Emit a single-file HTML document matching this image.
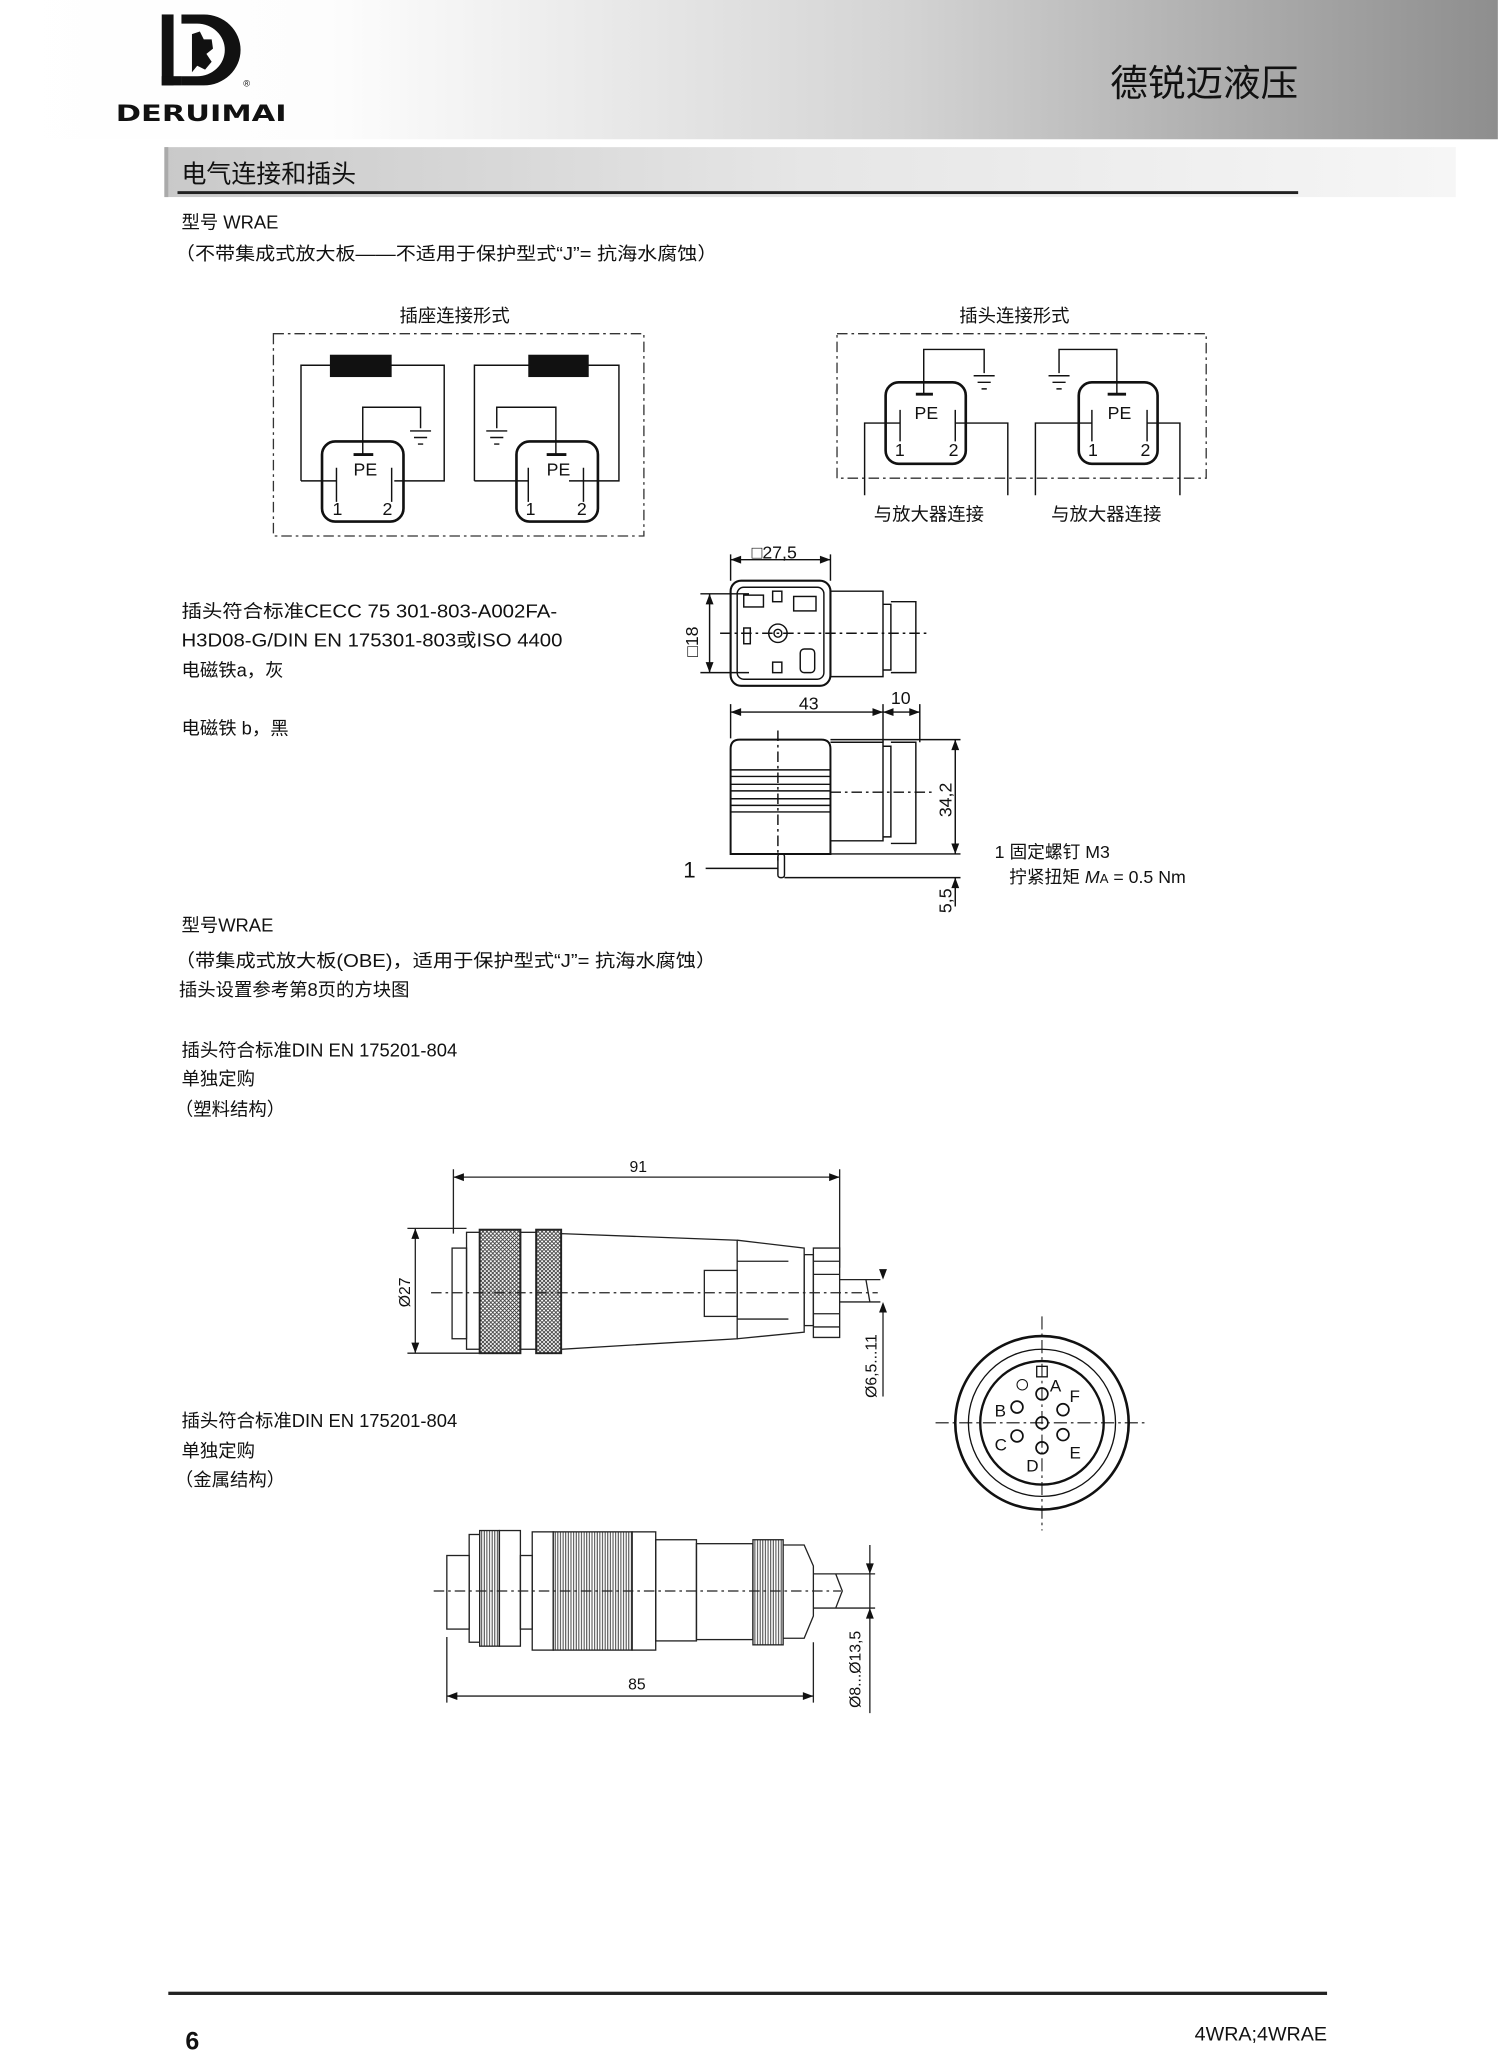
<!DOCTYPE html>
<html><head><meta charset="utf-8">
<style>
html,body{margin:0;padding:0;background:#fff;}
svg{display:block;}
text{font-family:"Liberation Sans","Noto Sans CJK SC",sans-serif;fill:#111;}
</style></head>
<body>
<svg width="1498" height="2060" viewBox="0 0 1140 1568" xmlns="http://www.w3.org/2000/svg">
<defs>
<linearGradient id="hg" x1="0" x2="1" y1="0" y2="0">
<stop offset="0" stop-color="#fff"/><stop offset="0.22" stop-color="#fdfdfd"/><stop offset="0.6" stop-color="#d4d4d4"/><stop offset="1" stop-color="#8e8e8e"/>
</linearGradient>
<linearGradient id="sg" x1="0" x2="1" y1="0" y2="0">
<stop offset="0" stop-color="#c9c9c9"/><stop offset="0.5" stop-color="#e6e6e6"/><stop offset="1" stop-color="#f6f6f6"/>
</linearGradient>
<pattern id="kn" width="3" height="3" patternUnits="userSpaceOnUse"><rect width="3" height="3" fill="#fff"/><path d="M0 0L3 3M3 0L0 3" stroke="#333" stroke-width="0.6"/></pattern>
<pattern id="kv" width="2" height="4" patternUnits="userSpaceOnUse"><rect width="2" height="4" fill="#fff"/><path d="M0.5 0V4" stroke="#333" stroke-width="0.7"/></pattern>
</defs>
<!-- header -->
<rect x="0" y="0" width="1140" height="106" fill="url(#hg)"/>
<rect x="123" y="11" width="9" height="54" fill="#111"/>
<rect x="123" y="58" width="15" height="7" fill="#111"/>
<path d="M138 11 H155 A28 27 0 0 1 155 65 H138 V58 H150 A21 20 0 0 0 150 18 H138 Z" fill="#111"/>
<path d="M146 26 L152 24 L155 30 L161 30 L162 37 L157 41 L161 47 L156 53 L150 50 L146 55 Z" fill="#111"/>
<text x="185" y="66" font-size="7">®</text>
<text x="88" y="92" font-size="17" font-weight="bold" textLength="130" lengthAdjust="spacingAndGlyphs" style="font-family:'DejaVu Sans',sans-serif">DERUIMAI</text>
<text x="845" y="73" font-size="28" textLength="143" lengthAdjust="spacingAndGlyphs">德锐迈液压</text>
<!-- section bar -->
<rect x="125" y="112" width="983" height="38" fill="url(#sg)"/>
<rect x="125" y="112" width="3" height="38" fill="#aaa"/>
<text x="138" y="139" font-size="19">电气连接和插头</text>
<rect x="135" y="145.5" width="853" height="2.2" fill="#222"/>
<g font-size="14">
<text x="138" y="174">型号 WRAE</text>
<text x="133" y="198" textLength="413" lengthAdjust="spacingAndGlyphs">（不带集成式放大板——不适用于保护型式“J”= 抗海水腐蚀）</text>
<text x="304" y="245">插座连接形式</text>
<text x="730" y="245">插头连接形式</text>
</g>
<!-- circuit boxes -->
<g fill="none" stroke="#333" stroke-width="1" stroke-dasharray="8,3,2,3">
<rect x="208" y="254" width="282" height="154"/>
<rect x="637" y="254" width="281" height="110"/>
</g>
<g fill="none" stroke="#111" stroke-width="1.1">
<!-- left circuit 1 -->
<path d="M229 366 V278 H338 V366 H300 M229 366 H256"/>
<rect x="245" y="336" width="62" height="61" rx="10" stroke-width="2"/>
<path d="M256 356 V382 M298 356 V382"/>
<path d="M276 346 V310 H320 V326"/>
<path d="M312 328 H328 M315 333 H325 M318 338 H322"/>
<!-- left circuit 2 -->
<path d="M361 366 V278 H471 V366 H433 M361 366 H402"/>
<rect x="393" y="336" width="62" height="61" rx="10" stroke-width="2"/>
<path d="M402 356 V382 M444 356 V382"/>
<path d="M423 346 V310 H378 V326"/>
<path d="M370 328 H386 M373 333 H383 M376 338 H380"/>
<!-- right circuit 1 -->
<rect x="674" y="291" width="61" height="62" rx="10" stroke-width="2"/>
<path d="M703 300 V266 H749 V284"/>
<path d="M741 286 H757 M744 291 H754 M747 296 H751"/>
<path d="M658 377 V322 H685 M685 312 V336 M727 312 V336 M727 322 H767 V377"/>
<!-- right circuit 2 -->
<rect x="821" y="291" width="60" height="62" rx="10" stroke-width="2"/>
<path d="M850 300 V266 H806 V284"/>
<path d="M798 286 H814 M801 291 H811 M804 296 H808"/>
<path d="M788 377 V322 H831 M831 312 V336 M873 312 V336 M873 322 H898 V377"/>
</g>
<rect x="251" y="270" width="47" height="17" fill="#111"/>
<rect x="402" y="270" width="46" height="17" fill="#111"/>
<g stroke="#111" stroke-width="2.2"><path d="M269 346 H284 M416 346 H431 M697 300 H710 M843 300 H857"/></g>
<g font-size="13.5">
<text x="269" y="362">PE</text><text x="253" y="392">1</text><text x="291" y="392">2</text>
<text x="416" y="362">PE</text><text x="400" y="392">1</text><text x="439" y="392">2</text>
<text x="696" y="319">PE</text><text x="681" y="347">1</text><text x="722" y="347">2</text>
<text x="843" y="319">PE</text><text x="828" y="347">1</text><text x="868" y="347">2</text>
</g>
<g font-size="14">
<text x="665" y="396">与放大器连接</text>
<text x="800" y="396">与放大器连接</text>
<text x="138" y="470" textLength="286" lengthAdjust="spacingAndGlyphs">插头符合标准CECC 75 301-803-A002FA-</text>
<text x="138" y="492" textLength="290" lengthAdjust="spacingAndGlyphs">H3D08-G/DIN EN 175301-803或ISO 4400</text>
<text x="138" y="515">电磁铁a，灰</text>
<text x="138" y="559">电磁铁 b，黑</text>
</g>
<!-- connector drawing 1 -->
<g fill="none" stroke="#111" stroke-width="1.1">
<path d="M556 426 H632 M556 422 V442 M632 422 V442"/>
<rect x="556" y="442" width="76" height="80" rx="8" stroke-width="1.6"/>
<rect x="561" y="447" width="66" height="70" rx="5"/>
<path d="M632 450 H672 V515 H632"/>
<path d="M672 460 H678 V510 H672 M678 458 H697 V512 H678"/>
<path d="M533 452 H570 M533 512 H570 M540 452 V512"/>
<path d="M548 482 H706" stroke-dasharray="8,3,2,3"/>
<circle cx="592" cy="482" r="7"/><circle cx="592" cy="482" r="3"/>
<rect x="566" y="453" width="15" height="9"/><rect x="604" y="454" width="17" height="11"/>
<rect x="609" y="494" width="11" height="18" rx="3"/>
<rect x="588" y="450" width="7" height="8"/><rect x="588" y="504" width="7" height="8"/>
<rect x="566" y="478" width="5" height="12"/>
<path d="M556 542 H700 M556 536 V562 M672 536 V565 M700 536 V565"/>
<path d="M556 650 V570 Q556 563 563 563 H625 Q632 563 632 570 V650 Z" stroke-width="1.5"/>
<path d="M556 586 H632 M556 591 H632 M556 597 H632 M556 602 H632 M556 608 H632 M556 613 H632 M556 618 H632"/>
<path d="M632 565 H672 V640 H632 M672 568 H678 V637 H672 M678 565 H697 V642 H678"/>
<path d="M592 556 V655" stroke-dasharray="8,3,2,3"/><path d="M632 603 H710" stroke-dasharray="8,3,2,3"/>
<rect x="592" y="650" width="5" height="18" rx="2"/>
<path d="M537 661 H592"/>
<path d="M632 563 H731 M632 650 H731 M597 668 H731 M727 563 V650 M727 668 V690 M727 650 V640"/>
</g>
<g fill="#111">
<path d="M556 426 l8 -3 v6z M632 426 l-8 -3 v6z M540 452 l-3 8 h6z M540 512 l-3 -8 h6z"/>
<path d="M556 542 l8 -3 v6z M672 542 l-8 -3 v6z M672 542 l8 -3 v6z M700 542 l-8 -3 v6z"/>
<path d="M727 563 l-3 8 h6z M727 650 l-3 -8 h6z M727 668 l-3 8 h6z"/>
</g>
<g font-size="13.5">
<text x="572" y="425">□27,5</text>
<text transform="translate(531,500) rotate(-90)">□18</text>
<text x="608" y="540">43</text>
<text x="678" y="536">10</text>
<text transform="translate(724,622) rotate(-90)">34,2</text>
<text transform="translate(724,695) rotate(-90)">5,5</text>
<text x="520" y="668" font-size="17">1</text>
<text x="757" y="653">1 固定螺钉 M3</text>
<text x="768" y="672">拧紧扭矩 <tspan font-style="italic">M</tspan><tspan font-size="10">A</tspan> = 0.5 Nm</text>
</g>
<g font-size="14">
<text x="138" y="709">型号WRAE</text>
<text x="133" y="736" textLength="412" lengthAdjust="spacingAndGlyphs">（带集成式放大板(OBE)，适用于保护型式“J”= 抗海水腐蚀）</text>
<text x="136" y="758">插头设置参考第8页的方块图</text>
<text x="138" y="804">插头符合标准DIN EN 175201-804</text>
<text x="138" y="826">单独定购</text>
<text x="133" y="849">（塑料结构）</text>
<text x="138" y="1086">插头符合标准DIN EN 175201-804</text>
<text x="138" y="1109">单独定购</text>
<text x="133" y="1131">（金属结构）</text>
</g>
<!-- drawing 3 plastic -->
<g fill="none" stroke="#222" stroke-width="1">
<path d="M345 896 H639 M345 890 V939 M639 890 V965"/>
<path d="M316 935 V1030 M310 935 H355 M310 1030 H365"/>
<rect x="344" y="950" width="11" height="69"/>
<rect x="355" y="938" width="10" height="89"/>
<rect x="365" y="936" width="31" height="94" fill="url(#kn)" stroke-width="1.5"/>
<rect x="396" y="938" width="12" height="89"/>
<rect x="408" y="936" width="19" height="94" fill="url(#kn)" stroke-width="1.5"/>
<path d="M427 939 L561 944 V1019 L427 1027 Z"/>
<path d="M561 944 L612 950 V1014 L561 1019 M561 960 H600 M561 1004 H600"/>
<rect x="536" y="967" width="25" height="35"/>
<rect x="612" y="955" width="7" height="54"/>
<path d="M619 950 h20 v68 h-20 z M619 960 H639 M619 970 H639 M619 1000 H639 M619 1010 H639"/>
<path d="M639 974 H670 M639 991 H670 M659 974 L662 991"/>
<path d="M672 996 V1063"/>
<path d="M328 984 H668" stroke-dasharray="8,3,2,3"/>
</g>
<g fill="#111"><path d="M345 896 l8 -3 v6z M639 896 l-8 -3 v6z M316 935 l-3 8 h6z M316 1030 l-3 -8 h6z M672 974 l-3 -8 h6z M672 991 l-3 8 h6z"/></g>
<text x="479" y="892" font-size="12">91</text>
<text transform="translate(312,995) rotate(-90)" font-size="12">Ø27</text>
<text transform="translate(667,1064) rotate(-90)" font-size="12">Ø6,5...11</text>
<!-- circular view -->
<g fill="none" stroke="#111">
<circle cx="793" cy="1083" r="66" stroke-width="2"/>
<circle cx="793" cy="1083" r="56" stroke-width="1"/>
<circle cx="793" cy="1083" r="47" stroke-width="1.8"/>
<path d="M712 1083 H874 M793 1002 V1165" stroke-width="0.8" stroke-dasharray="10,3,2,3"/>
<g stroke-width="1.3">
<circle cx="793" cy="1061" r="4.5"/><circle cx="809" cy="1073" r="4.5"/><circle cx="774" cy="1071" r="4.5"/>
<circle cx="793" cy="1083" r="4.5"/><circle cx="774" cy="1093" r="4.5"/><circle cx="809" cy="1092" r="4.5"/><circle cx="793" cy="1102" r="4.5"/>
</g>
<rect x="789" y="1040" width="8" height="8" stroke-width="1"/>
<circle cx="778" cy="1054" r="4" stroke-width="0.8"/>
</g>
<g font-size="13">
<text x="799" y="1059">A</text><text x="814" y="1067">F</text><text x="757" y="1078">B</text>
<text x="757" y="1104">C</text><text x="814" y="1110">E</text><text x="781" y="1120">D</text>
</g>
<!-- drawing 4 metal -->
<g fill="none" stroke="#222" stroke-width="1">
<rect x="340" y="1184" width="17" height="56"/>
<rect x="357" y="1168" width="8" height="82"/>
<rect x="365" y="1165" width="15" height="88" fill="url(#kv)"/>
<rect x="380" y="1165" width="16" height="88"/>
<rect x="396" y="1184" width="9" height="56"/>
<rect x="405" y="1166" width="16" height="90"/>
<rect x="421" y="1166" width="60" height="90" fill="url(#kv)"/>
<rect x="481" y="1166" width="18" height="90"/>
<rect x="499" y="1172" width="31" height="77"/>
<rect x="530" y="1175" width="43" height="73"/>
<rect x="573" y="1172" width="23" height="80" fill="url(#kv)"/>
<path d="M596 1176 H612 L619 1192 V1230 L612 1247 H596"/>
<path d="M619 1198 H666 M619 1224 H666 M636 1198 L641 1211 L636 1224"/>
<path d="M662 1176 V1304"/>
<path d="M340 1246 V1296 M619 1250 V1296 M340 1291 H619"/>
<path d="M330 1211 H640" stroke-dasharray="8,3,2,3"/>
</g>
<g fill="#111"><path d="M340 1291 l8 -3 v6z M619 1291 l-8 -3 v6z M662 1198 l-3 -8 h6z M662 1224 l-3 8 h6z"/></g>
<text x="478" y="1286" font-size="12">85</text>
<text transform="translate(655,1300) rotate(-90)" font-size="12">Ø8...Ø13,5</text>
<!-- footer -->
<rect x="128" y="1516" width="882" height="2.5" fill="#222"/>
<text x="141" y="1560" font-size="19" font-weight="bold">6</text>
<text x="1010" y="1553" font-size="15" text-anchor="end">4WRA;4WRAE</text>
</svg>
</body></html>
